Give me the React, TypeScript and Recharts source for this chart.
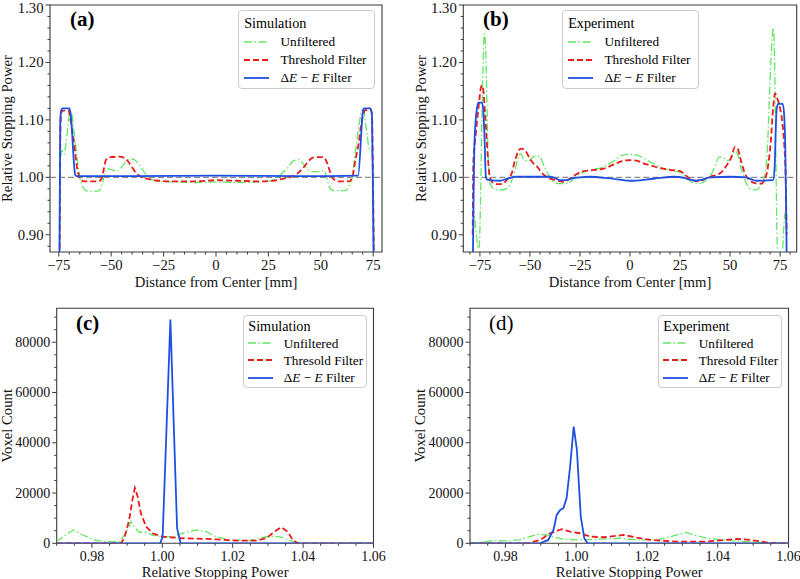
import React from 'react';
import { LineChart, Line, XAxis, YAxis, ReferenceLine, ReferenceArea, Legend } from 'recharts';

const FONT = '"Liberation Serif", "DejaVu Serif", serif';
const AXIS_COLOR = '#3a3a3a';

type Pair = [number, number];

// ---------------- (a) Simulation profiles: [distance mm, relative stopping power]
const simProfileUnfiltered: Pair[] = [
  [-74.6, 0.86], [-74.2, 1.02], [-73.6, 1.047], [-72.6, 1.04], [-71.6, 1.058], [-70.7, 1.086], [-69.7, 1.115],
  [-69.0, 1.113], [-67.6, 1.075], [-65.9, 1.023], [-64.6, 0.995], [-63.0, 0.98], [-61.4, 0.976], [-56.0, 0.976],
  [-54.4, 0.986], [-53.2, 1.006], [-51.9, 1.015], [-49.5, 1.013], [-47.0, 1.011], [-45.0, 1.018], [-43.2, 1.026],
  [-40.5, 1.032], [-39.0, 1.031], [-36.8, 1.023], [-33.6, 1.006], [-31.0, 0.997], [-28.0, 0.993], [-20.0, 0.992],
  [-10.0, 0.991], [0.0, 0.992], [10.0, 0.991], [20.0, 0.992], [26.0, 0.994], [29.2, 1.0], [31.5, 1.007],
  [34.0, 1.016], [37.1, 1.029], [39.5, 1.031], [41.9, 1.022], [44.3, 1.012], [46.5, 1.01], [49.7, 1.01],
  [51.4, 1.012], [52.3, 1.007], [53.2, 0.994], [54.6, 0.98], [56.2, 0.977], [61.6, 0.977], [63.4, 0.983],
  [65.0, 1.0], [66.6, 1.047], [68.1, 1.087], [69.7, 1.117], [70.5, 1.115], [71.5, 1.09], [72.2, 1.072],
  [73.0, 1.05], [74.0, 1.047], [74.6, 1.04], [75.0, 0.95], [75.3, 0.86],
];
const simProfileThreshold: Pair[] = [
  [-74.6, 0.86], [-74.2, 1.09], [-73.6, 1.115], [-70.5, 1.117], [-69.6, 1.105], [-68.8, 1.085], [-67.8, 1.062],
  [-66.2, 1.015], [-64.6, 0.997], [-63.0, 0.993], [-56.0, 0.993], [-54.6, 0.998], [-53.5, 1.015], [-52.5, 1.03],
  [-50.5, 1.035], [-46.0, 1.036], [-44.0, 1.034], [-42.0, 1.028], [-40.5, 1.02], [-38.0, 1.007], [-35.0, 1.0],
  [-32.0, 0.997], [-27.0, 0.994], [-20.0, 0.993], [-10.0, 0.993], [0.0, 0.995], [10.0, 0.994], [20.0, 0.993],
  [27.0, 0.994], [31.0, 0.997], [35.0, 1.0], [38.7, 1.006], [41.0, 1.014], [43.5, 1.025], [45.5, 1.033],
  [47.5, 1.035], [51.3, 1.035], [53.0, 1.025], [54.2, 1.012], [55.4, 1.0], [56.8, 0.995], [58.0, 0.993],
  [63.4, 0.993], [65.0, 1.0], [66.5, 1.03], [68.1, 1.06], [69.2, 1.09], [70.2, 1.108], [71.3, 1.117],
  [73.8, 1.117], [74.4, 1.11], [74.9, 1.0], [75.3, 0.86],
];
const simProfileDeltaE: Pair[] = [
  [-74.7, 0.86], [-74.3, 1.1], [-73.8, 1.117], [-73.2, 1.12], [-70.0, 1.12], [-69.4, 1.112], [-67.2, 1.005],
  [-66.5, 1.002], [-40.0, 1.002], [0.0, 1.003], [40.0, 1.002], [67.8, 1.003], [70.2, 1.117], [70.7, 1.12],
  [73.6, 1.12], [74.3, 1.113], [74.8, 1.0], [75.2, 0.86],
];

// ---------------- (b) Experiment profiles
const expProfileUnfiltered: Pair[] = [
  [-78.6, 0.95], [-77.8, 0.935], [-76.8, 0.9], [-75.8, 0.876], [-75.3, 0.88], [-74.6, 0.98], [-74.0, 1.1],
  [-73.3, 1.21], [-72.8, 1.25], [-72.2, 1.232], [-71.5, 1.13], [-70.8, 1.03], [-70.0, 0.99], [-68.0, 0.98],
  [-65.0, 0.978], [-62.0, 0.98], [-60.0, 0.987], [-57.5, 1.012], [-55.5, 1.038], [-54.5, 1.041], [-53.0, 1.03],
  [-50.5, 1.029], [-48.5, 1.035], [-46.7, 1.038], [-45.0, 1.035], [-43.3, 1.023], [-40.0, 1.0], [-37.0, 0.99],
  [-35.0, 0.989], [-32.0, 0.989], [-29.0, 0.995], [-26.7, 1.003], [-21.7, 1.011], [-13.3, 1.018], [-8.3, 1.028],
  [-4.0, 1.038], [0.0, 1.04], [4.0, 1.038], [10.0, 1.027], [15.0, 1.018], [20.0, 1.012], [25.0, 1.009],
  [28.0, 1.0], [30.5, 0.992], [33.0, 0.989], [36.0, 0.991], [40.0, 1.001], [42.5, 1.02], [44.5, 1.035],
  [46.5, 1.035], [48.5, 1.029], [50.5, 1.033], [52.5, 1.046], [53.8, 1.04], [55.0, 1.023], [57.5, 0.995],
  [60.0, 0.98], [62.5, 0.978], [65.0, 0.984], [67.0, 0.998], [68.8, 1.06], [70.0, 1.17], [71.0, 1.24],
  [71.6, 1.26], [72.1, 1.23], [72.6, 1.12], [73.1, 0.98], [73.6, 0.875], [74.2, 0.85], [76.0, 0.86],
  [76.8, 0.91], [77.5, 0.94], [78.2, 0.92],
];
const expProfileThreshold: Pair[] = [
  [-78.6, 0.9], [-78.3, 1.024], [-77.5, 1.06], [-76.7, 1.088], [-75.3, 1.134], [-74.5, 1.157], [-74.0, 1.16],
  [-73.3, 1.152], [-72.6, 1.12], [-72.0, 1.088], [-70.8, 1.024], [-70.0, 1.0], [-68.3, 0.99], [-66.0, 0.988],
  [-64.0, 0.988], [-61.7, 0.995], [-59.2, 1.006], [-57.5, 1.029], [-55.5, 1.047], [-54.5, 1.05], [-52.5, 1.047],
  [-50.0, 1.032], [-48.5, 1.025], [-46.7, 1.02], [-45.0, 1.012], [-43.3, 1.005], [-40.8, 0.999], [-36.7, 0.995],
  [-33.3, 0.992], [-30.0, 0.998], [-27.0, 1.005], [-24.0, 1.01], [-20.0, 1.012], [-13.3, 1.015], [-8.3, 1.022],
  [-4.0, 1.028], [0.0, 1.03], [3.3, 1.029], [7.0, 1.024], [10.0, 1.021], [15.0, 1.016], [20.0, 1.013],
  [25.0, 1.011], [28.0, 1.003], [30.5, 0.996], [34.0, 0.993], [38.0, 0.998], [41.0, 1.002], [44.0, 1.005],
  [46.0, 1.01], [48.5, 1.022], [50.5, 1.034], [52.5, 1.053], [53.8, 1.05], [55.0, 1.035], [57.5, 1.006],
  [60.0, 0.994], [62.5, 0.99], [65.5, 0.989], [67.5, 0.997], [69.0, 1.02], [70.3, 1.06], [71.5, 1.12],
  [72.5, 1.146], [73.5, 1.138], [75.0, 1.12], [76.3, 1.09], [77.2, 1.05], [77.8, 1.0], [78.3, 0.9],
];
const expProfileDeltaE: Pair[] = [
  [-78.5, 0.86], [-78.2, 0.95], [-77.8, 1.05], [-77.3, 1.09], [-76.5, 1.12], [-75.8, 1.13], [-74.0, 1.13],
  [-73.4, 1.12], [-72.8, 1.08], [-72.0, 1.0], [-71.3, 0.996], [-70.0, 0.995], [-65.0, 0.994], [-62.0, 0.997],
  [-59.0, 1.0], [-57.0, 1.001], [-40.0, 1.001], [-37.0, 0.998], [-35.0, 0.995], [-32.0, 0.995], [-29.0, 0.998],
  [-25.0, 1.0], [-20.0, 1.001], [-10.0, 0.998], [0.0, 0.994], [8.0, 0.996], [15.0, 0.999], [22.0, 1.001],
  [27.0, 0.999], [30.0, 0.996], [33.0, 0.994], [36.0, 0.996], [40.0, 1.0], [50.0, 1.001], [58.0, 1.0],
  [61.0, 0.996], [63.0, 0.994], [71.5, 0.995], [72.3, 1.02], [72.8, 1.08], [73.3, 1.12], [74.2, 1.128],
  [76.3, 1.128], [77.0, 1.11], [77.6, 1.05], [78.0, 0.95], [78.3, 0.86],
];

// ---------------- (c) Simulation histograms: [relative stopping power, voxel count]
const simHistUnfiltered: Pair[] = [
  [0.9698, 640], [0.9747, 5300], [0.9773, 3400], [0.9802, 1600], [0.983, 700], [0.9878, 640], [0.9897, 4000],
  [0.9911, 8650], [0.9923, 6000], [0.9935, 4400], [0.9954, 4400], [0.9972, 3300], [1.0001, 2600], [1.003, 2650],
  [1.0058, 4000], [1.0096, 5300], [1.0124, 4650], [1.0153, 2650], [1.019, 1300], [1.0247, 1070], [1.0295, 2600],
  [1.0333, 2650], [1.0361, 1300], [1.039, 0], [1.06, 0],
];
const simHistThreshold: Pair[] = [
  [0.97, 0], [0.9882, 0], [0.9892, 2000], [0.9906, 9300], [0.9915, 17300], [0.9922, 22000], [0.993, 18650],
  [0.9939, 12000], [0.9954, 6650], [0.9972, 4000], [1.0001, 2640], [1.0058, 2000], [1.0153, 1600], [1.021, 1070],
  [1.0267, 1070], [1.0295, 2000], [1.0319, 4650], [1.0338, 6400], [1.0356, 4650], [1.0371, 1300], [1.0385, 0],
  [1.06, 0],
];
const simHistDeltaE: Pair[] = [
  [0.97, 0], [0.9994, 0], [1.0001, 2600], [1.0023, 89000], [1.0042, 6000], [1.0052, 0], [1.06, 0],
];

// ---------------- (d) Experiment histograms
const expHistUnfiltered: Pair[] = [
  [0.97, 100], [0.9727, 270], [0.9765, 1070], [0.9803, 930], [0.9841, 1330], [0.9869, 2660], [0.9893, 3600],
  [0.9917, 3320], [0.994, 2400], [0.9964, 1600], [1.0011, 1330], [1.0059, 1600], [1.0125, 2000], [1.0172, 1330],
  [1.0229, 1330], [1.0267, 2660], [1.031, 4300], [1.0343, 2930], [1.0371, 2000], [1.0437, 1070], [1.0494, 530],
  [1.055, 270], [1.06, 100],
];
const expHistThreshold: Pair[] = [
  [0.97, 0], [0.9864, 0], [0.9898, 1330], [0.9926, 4000], [0.9959, 5600], [0.9983, 4650], [1.0011, 4000],
  [1.004, 2660], [1.0078, 2400], [1.0134, 3320], [1.0172, 2260], [1.021, 1330], [1.0286, 670], [1.0362, 670],
  [1.0418, 1330], [1.0456, 1730], [1.0494, 1330], [1.0542, 270], [1.0576, 0], [1.06, 0],
];
const expHistDeltaE: Pair[] = [
  [0.97, 0], [0.9898, 0], [0.9921, 1330], [0.9936, 5320], [0.9945, 11300], [0.9955, 13300], [0.9964, 14000],
  [0.9973, 18000], [0.9983, 30650], [0.9993, 46400], [1.0002, 37300], [1.0013, 10650], [1.0023, 2000],
  [1.0032, 0], [1.06, 0],
];

// ---------------- ticks
const PROFILE_X_MAJOR = [-75, -50, -25, 0, 25, 50, 75];
const PROFILE_X_MINOR_A = [-70, -65, -60, -55, -45, -40, -35, -30, -20, -15, -10, -5, 5, 10, 15, 20, 30, 35, 40, 45, 55, 60, 65, 70];
const PROFILE_X_MINOR_B = [-80, ...PROFILE_X_MINOR_A, 80];
const PROFILE_Y_MAJOR = [0.9, 1.0, 1.1, 1.2, 1.3];
const PROFILE_Y_MINOR = [0.88, 0.92, 0.94, 0.96, 0.98, 1.02, 1.04, 1.06, 1.08, 1.12, 1.14, 1.16, 1.18, 1.22, 1.24, 1.26, 1.28];
const HIST_X_MAJOR = [0.98, 1.0, 1.02, 1.04, 1.06];
const HIST_X_MINOR = [0.97, 0.975, 0.985, 0.99, 0.995, 1.005, 1.01, 1.015, 1.025, 1.03, 1.035, 1.045, 1.05, 1.055];
const HIST_Y_MAJOR = [0, 20000, 40000, 60000, 80000];
const HIST_Y_MINOR = [5000, 10000, 15000, 25000, 30000, 35000, 45000, 50000, 55000, 65000, 70000, 75000, 85000, 90000];

const NAMES_PROFILE = ['Unfiltered', 'Threshold Filter', 'ΔE − E Filter'];
const NAMES_HIST = ['Unfiltered', 'Thresold Filter', 'ΔE − E Filter'];

const SERIES_STYLE = [
  { color: '#62e862', dash: '8 2.5 1.5 2.5', width: 1.3 },
  { color: '#ec1b1b', dash: '6 3', width: 1.8 },
  { color: '#1d50e2', dash: undefined as string | undefined, width: 1.8 },
];

const toPts = (arr: Pair[]) => arr.map(([x, y]) => ({ x, y }));
const near = (arr: number[], v: number) => arr.some((m) => Math.abs(m - v) < 1e-9);

const renderName = (name: string) =>
  name.startsWith('ΔE') ? (
    <>
      Δ<i>E</i> − <i>E</i> Filter
    </>
  ) : (
    name
  );

type LegendBoxCfg = {
  left: number; top: number; width: number; height: number; padTop: number; padLeft: number;
  titleH: number; rowH: number; sampleW: number; gap: number; fontSize: number; titleSize: number;
};

function LegendBox({ title, names, cfg }: { title: string; names: string[]; cfg: LegendBoxCfg }) {
  return (
    <div
      style={{
        width: cfg.width, height: cfg.height, boxSizing: 'border-box', border: '1px solid #cccccc',
        borderRadius: 4, background: 'rgba(255,255,255,0.8)', paddingTop: cfg.padTop, paddingLeft: cfg.padLeft,
        fontFamily: FONT, color: '#000', textAlign: 'left',
      }}
    >
      <div style={{ fontFamily: FONT, fontSize: cfg.titleSize, height: cfg.titleH, lineHeight: cfg.titleH + 'px', whiteSpace: 'nowrap' }}>{title}</div>
      {names.map((n, i) => {
        const s = SERIES_STYLE[i];
        return (
          <div key={n} style={{ display: 'flex', alignItems: 'center', height: cfg.rowH, whiteSpace: 'nowrap' }}>
            <svg width={cfg.sampleW} height={10} style={{ flex: 'none', display: 'block' }}>
              <line x1={0} y1={5} x2={cfg.sampleW} y2={5} stroke={s.color} strokeWidth={s.width} strokeDasharray={s.dash} />
            </svg>
            <span style={{ fontFamily: FONT, marginLeft: cfg.gap, fontSize: cfg.fontSize, lineHeight: cfg.rowH + 'px' }}>{renderName(n)}</span>
          </div>
        );
      })}
    </div>
  );
}

type PanelProps = {
  left: number; top: number; width: number; height: number;
  margin: { top: number; right: number; bottom: number; left: number };
  yAxisWidth: number; xAxisHeight: number;
  xDomain: [number, number]; yDomain: [number, number];
  xMajor: number[]; xMinor: number[]; yMajor: number[]; yMinor: number[];
  xFmt: (v: number) => string; yFmt: (v: number) => string;
  series: Pair[][]; names: string[]; lineType: 'monotone' | 'linear';
  legendTitle: string; legend: LegendBoxCfg;
  panelLabel: string; panelLeft: number; panelCy: number; panelBold: boolean;
  xLabel: string; yLabel: string; yLabelX: number; xLabelDy: number; xTickDy: number;
  tickFs: number; labelFs: number; refY?: number;
};

function Panel(p: PanelProps) {
  const xTicks = [...p.xMajor, ...p.xMinor].sort((a, b) => a - b);
  const yTicks = [...p.yMajor, ...p.yMinor].sort((a, b) => a - b);
  const plotX = p.margin.left + p.yAxisWidth;
  const plotY = p.margin.top;
  const plotW = p.width - p.margin.left - p.margin.right - p.yAxisWidth;
  const plotH = p.height - p.margin.top - p.margin.bottom - p.xAxisHeight;
  const textStyle = { fontFamily: FONT };

  const XTick = (t: any) => {
    const v = t.payload.value;
    const major = near(p.xMajor, v);
    return (
      <g>
        <line x1={t.x} y1={t.y} x2={t.x} y2={t.y + (major ? 4.5 : 2.5)} stroke={AXIS_COLOR} strokeWidth={1} />
        {major && (
          <text x={t.x} y={t.y + p.xTickDy} textAnchor="middle" dominantBaseline="central" style={textStyle} fontSize={p.tickFs} fill="#111">
            {p.xFmt(v)}
          </text>
        )}
      </g>
    );
  };
  const YTick = (t: any) => {
    const v = t.payload.value;
    const major = near(p.yMajor, v);
    const ty = Math.max(t.y, p.tickFs * 0.5 + 1);
    return (
      <g>
        <line x1={t.x} y1={t.y} x2={t.x - (major ? 4.5 : 2.5)} y2={t.y} stroke={AXIS_COLOR} strokeWidth={1} />
        {major && (
          <text x={t.x - 6.5} y={ty} textAnchor="end" dominantBaseline="central" style={textStyle} fontSize={p.tickFs} fill="#111">
            {p.yFmt(v)}
          </text>
        )}
      </g>
    );
  };
  const XLabel = () => (
    <text x={plotX + plotW / 2} y={plotY + plotH + p.xLabelDy} textAnchor="middle" dominantBaseline="central" style={textStyle} fontSize={p.labelFs} fill="#111">
      {p.xLabel}
    </text>
  );
  const YLabel = () => {
    const cy = plotY + plotH / 2;
    return (
      <text x={p.yLabelX} y={cy} transform={`rotate(-90 ${p.yLabelX} ${cy})`} textAnchor="middle" dominantBaseline="central" style={textStyle} fontSize={p.labelFs} fill="#111">
        {p.yLabel}
      </text>
    );
  };

  return (
    <div style={{ position: 'absolute', left: p.left, top: p.top, width: p.width, height: p.height, fontFamily: FONT }}>
      <LineChart width={p.width} height={p.height} margin={p.margin} style={{ fontFamily: FONT }}>
        <XAxis
          type="number" dataKey="x" domain={p.xDomain} allowDataOverflow ticks={xTicks} interval={0}
          height={p.xAxisHeight} axisLine={false} tickLine={false} tickSize={0} tickMargin={0}
          tick={XTick} label={{ content: XLabel }}
        />
        <YAxis
          type="number" domain={p.yDomain} allowDataOverflow ticks={yTicks} interval={0}
          width={p.yAxisWidth} axisLine={false} tickLine={false} tickSize={0} tickMargin={0}
          tick={YTick} label={{ content: YLabel }}
        />
        {p.refY !== undefined && (
          <ReferenceLine y={p.refY} stroke="#8c8c8c" strokeWidth={1.4} strokeDasharray="6 3" />
        )}
        {p.series.map((s, i) => (
          <Line
            key={p.names[i]} name={p.names[i]} data={toPts(s)} dataKey="y" type={p.lineType}
            stroke={SERIES_STYLE[i].color} strokeWidth={SERIES_STYLE[i].width} strokeDasharray={SERIES_STYLE[i].dash}
            dot={false} activeDot={false} isAnimationActive={false}
          />
        ))}
        <ReferenceArea
          x1={p.xDomain[0]} x2={p.xDomain[1]} y1={p.yDomain[0]} y2={p.yDomain[1]}
          fill="none" fillOpacity={0} stroke={AXIS_COLOR} strokeWidth={1.1} ifOverflow="visible"
        />
        <Legend
          layout="horizontal" verticalAlign="middle" align="center"
          wrapperStyle={{ left: p.legend.left, top: p.legend.top, width: p.legend.width, height: p.legend.height }}
          content={() => <LegendBox title={p.legendTitle} names={p.names} cfg={p.legend} />}
        />
      </LineChart>
      <div
        style={{
          position: 'absolute', left: p.panelLeft, top: p.panelCy - 13, height: 26, lineHeight: '26px',
          fontFamily: FONT, fontSize: 21, fontWeight: p.panelBold ? 'bold' : 'normal', color: '#000', whiteSpace: 'nowrap',
        }}
      >
        {p.panelLabel}
      </div>
    </div>
  );
}

const fmtMm = (v: number) => (v < 0 ? '−' + Math.abs(v) : String(v));
const fmt2 = (v: number) => v.toFixed(2);
const fmtInt = (v: number) => String(Math.round(v));

const legendTop = (left: number): LegendBoxCfg => ({
  left, top: 10, width: 137.5, height: 79, padTop: 3, padLeft: 5.5, titleH: 18.6, rowH: 18,
  sampleW: 25.3, gap: 11, fontSize: 13.3, titleSize: 14.2,
});
const legendBottom = (left: number): LegendBoxCfg => ({
  left, top: 25, width: 124, height: 73.3, padTop: 1.5, padLeft: 4.6, titleH: 17, rowH: 17.3,
  sampleW: 25.2, gap: 10.2, fontSize: 13.3, titleSize: 14.2,
});

export default function App() {
  return (
    <div style={{ position: 'absolute', left: 0, top: 0, width: 800, height: 579, background: '#fff', overflow: 'hidden', fontFamily: FONT }}>
      <Panel
        left={0} top={0} width={400} height={290}
        margin={{ top: 5, right: 18, bottom: 0, left: 0 }} yAxisWidth={50} xAxisHeight={38}
        xDomain={[-79.2, 79.2]} yDomain={[0.87, 1.3]}
        xMajor={PROFILE_X_MAJOR} xMinor={PROFILE_X_MINOR_A} yMajor={PROFILE_Y_MAJOR} yMinor={PROFILE_Y_MINOR}
        xFmt={fmtMm} yFmt={fmt2}
        series={[simProfileUnfiltered, simProfileThreshold, simProfileDeltaE]} names={NAMES_PROFILE} lineType="monotone"
        legendTitle="Simulation" legend={legendTop(237.7)}
        panelLabel="(a)" panelLeft={70} panelCy={19} panelBold
        xLabel="Distance from Center [mm]" yLabel="Relative Stopping Power" yLabelX={7} xLabelDy={29.7} xTickDy={13}
        tickFs={14.7} labelFs={14.7} refY={1}
      />
      <Panel
        left={400} top={0} width={400} height={290}
        margin={{ top: 5, right: 3.3, bottom: 0, left: 0 }} yAxisWidth={63.3} xAxisHeight={38}
        xDomain={[-83.3, 83.3]} yDomain={[0.87, 1.3]}
        xMajor={PROFILE_X_MAJOR} xMinor={PROFILE_X_MINOR_B} yMajor={PROFILE_Y_MAJOR} yMinor={PROFILE_Y_MINOR}
        xFmt={fmtMm} yFmt={fmt2}
        series={[expProfileUnfiltered, expProfileThreshold, expProfileDeltaE]} names={NAMES_PROFILE} lineType="monotone"
        legendTitle="Experiment" legend={legendTop(161.7)}
        panelLabel="(b)" panelLeft={83} panelCy={19} panelBold
        xLabel="Distance from Center [mm]" yLabel="Relative Stopping Power" yLabelX={21} xLabelDy={29.7} xTickDy={13}
        tickFs={14.7} labelFs={14.7} refY={1}
      />
      <Panel
        left={0} top={290} width={400} height={289}
        margin={{ top: 18.3, right: 26.5, bottom: 0, left: 0 }} yAxisWidth={56.7} xAxisHeight={35.7}
        xDomain={[0.97, 1.06]} yDomain={[0, 93500]}
        xMajor={HIST_X_MAJOR} xMinor={HIST_X_MINOR} yMajor={HIST_Y_MAJOR} yMinor={HIST_Y_MINOR}
        xFmt={fmt2} yFmt={fmtInt}
        series={[simHistUnfiltered, simHistThreshold, simHistDeltaE]} names={NAMES_HIST} lineType="linear"
        legendTitle="Simulation" legend={legendBottom(242.7)}
        panelLabel="(c)" panelLeft={76} panelCy={33.3} panelBold
        xLabel="Relative Stopping Power" yLabel="Voxel Count" yLabelX={7} xLabelDy={28.4} xTickDy={13.4}
        tickFs={14} labelFs={14.7}
      />
      <Panel
        left={400} top={290} width={400} height={289}
        margin={{ top: 18.3, right: 11.5, bottom: 0, left: 0 }} yAxisWidth={70} xAxisHeight={35.7}
        xDomain={[0.97, 1.06]} yDomain={[0, 93500]}
        xMajor={HIST_X_MAJOR} xMinor={HIST_X_MINOR} yMajor={HIST_Y_MAJOR} yMinor={HIST_Y_MINOR}
        xFmt={fmt2} yFmt={fmtInt}
        series={[expHistUnfiltered, expHistThreshold, expHistDeltaE]} names={NAMES_HIST} lineType="linear"
        legendTitle="Experiment" legend={legendBottom(257.7)}
        panelLabel="(d)" panelLeft={89} panelCy={33} panelBold={false}
        xLabel="Relative Stopping Power" yLabel="Voxel Count" yLabelX={20} xLabelDy={28.4} xTickDy={13.4}
        tickFs={14} labelFs={14.7}
      />
    </div>
  );
}
